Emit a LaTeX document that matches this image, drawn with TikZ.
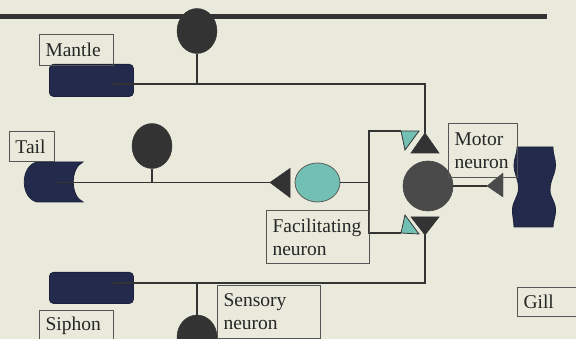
\documentclass[tikz,border=0pt]{standalone}
\usepackage{fontspec}
\setmainfont{Liberation Serif}
\usetikzlibrary{shapes.geometric}
\definecolor{bgc}{HTML}{E9E9DC}
\definecolor{navy}{HTML}{232A4B}
\definecolor{wirec}{HTML}{333333}
\definecolor{boxc}{HTML}{555555}
\definecolor{tealc}{HTML}{72C0B3}
\definecolor{motorc}{HTML}{4A4A4A}
\begin{document}
\begin{tikzpicture}[x=1pt,y=-1pt,
  organ/.style={fill=navy, draw=navy!80!black, line width=0.8pt},
  wire/.style={draw=wirec, line width=1.9pt},
  lbl/.style={draw=boxc, line width=1pt, inner xsep=6pt, inner ysep=0pt, anchor=north west, align=left, font=\fontsize{19.5}{23}\selectfont, text=black!85},
  soma/.style={ellipse, fill=wirec, draw=wirec, inner sep=0pt},
  tri/.style={fill=wirec, draw=wirec, line width=0.6pt},
  ttri/.style={fill=tealc, draw=wirec, line width=0.8pt}]
\useasboundingbox (0,0) rectangle (576,339);
\fill[bgc] (0,0) rectangle (576,339);
% organs
\node[organ, rounded corners=4pt, minimum width=84pt, minimum height=32pt, anchor=north west, inner sep=0pt] (mantle) at (49,64) {};
\node[organ, rounded corners=4pt, minimum width=84pt, minimum height=31pt, anchor=north west, inner sep=0pt] (siphon) at (49,272) {};
\fill[organ] (83,162) -- (37,162) .. controls (20,166) and (20,198) .. (37,202) -- (83,202) .. controls (70,196) and (70,168) .. (83,162) -- cycle;
\fill[organ] (517,147) .. controls (517,155) and (514,158) .. (514,165)
  .. controls (514,174) and (518.5,179) .. (518.5,188)
  .. controls (518.5,197) and (512.5,201) .. (512.5,210)
  .. controls (512.5,218) and (514,221) .. (514,227)
  -- (553,227) .. controls (553,221) and (555.5,218) .. (555.5,210)
  .. controls (555.5,201) and (550,198) .. (550,190)
  .. controls (550,180) and (555.5,174) .. (555.5,165)
  .. controls (555.5,158) and (553,155) .. (553,147) -- cycle;
% top bar
\coordinate (barL) at (0,16.5);
\coordinate (barR) at (547,16.5);
\draw[wirec, line width=5pt] (barL) -- (barR);
% coordinates
\coordinate (mw) at (113,84);
\coordinate (mcorner) at (425,84);
\coordinate (tw) at (55,182.5);
\coordinate (sw) at (113,283);
\coordinate (scorner) at (425,283);
\coordinate (fjoin) at (369,182.5);
\coordinate (ftop) at (369,131);
\coordinate (fbot) at (369,233);
% triangles
\coordinate (uapex) at (425,133);
\coordinate (dapex) at (425,235);
\draw[tri] (uapex) -- (439,153) -- (411,153) -- cycle;
\draw[tri] (dapex) -- (411,217) -- (439,217) -- cycle;
\coordinate (tt1) at (401,131);
\draw[ttri] (tt1) -- (419,131) -- (405,150) -- cycle;
\coordinate (tb1) at (401,233);
\draw[ttri] (tb1) -- (405,215) -- (419,234) -- cycle;
\coordinate (lapex) at (270,182.5);
\draw[tri] (lapex) -- (290,168.5) -- (290,197.5) -- cycle;
\coordinate (mapex) at (487,186);
\draw[fill=motorc, draw=motorc] (mapex) -- (503,173) -- (503,197) -- cycle;
% neurons
\node[soma, minimum width=40pt, minimum height=45pt] (mn) at (197,31) {};
\node[soma, minimum width=40pt, minimum height=45pt] (tn) at (152,146) {};
\node[soma, minimum width=40pt, minimum height=44pt] (sn) at (197,337) {};
\node[ellipse, fill=tealc, draw=wirec!80, line width=0.8pt, inner sep=0pt, minimum width=45pt, minimum height=39pt] (fn) at (317.5,182.5) {};
\node[circle, fill=motorc, draw=wirec!90, line width=0.6pt, inner sep=0pt, minimum size=50pt] (motor) at (428,186) {};
% wires
\draw[wire] (mw) -- (mcorner) -- (uapex);
\draw[wire] (mn.south) -- (mn.south |- mw);
\draw[wire] (tw) -- (lapex);
\draw[wire] (tn.south) -- (tn.south |- tw);
\draw[wire] (sw) -- (scorner) -- (dapex);
\draw[wire] (sn.north) -- (sn.north |- sw);
\draw[wire] (fn.east) -- (fjoin);
\draw[wire] (tt1) -- (ftop) -- (fbot) -- (tb1);
\draw[wire] (motor.east) -- (mapex);
% labels
\node[lbl, text width=62pt, minimum height=31pt] (mantlelbl) at (39,34) {Mantle};
\node[lbl, text width=33pt, minimum height=30pt] (taillbl) at (9,131) {Tail};
\node[lbl, text width=91pt, minimum height=53pt] (faclbl) at (266,210) {Facilitating\\neuron};
\node[lbl, text width=91pt, minimum height=53pt] (senslbl) at (217,285) {Sensory\\neuron};
\node[lbl, text width=57pt, minimum height=54pt] (motorlbl) at (448,123) {Motor\\neuron};
\node[lbl, text width=50pt, minimum height=29pt] (gilllbl) at (517,287) {Gill};
\node[lbl, text width=62pt, minimum height=31pt] (siphonlbl) at (39,310) {Siphon};
\end{tikzpicture}
\end{document}
